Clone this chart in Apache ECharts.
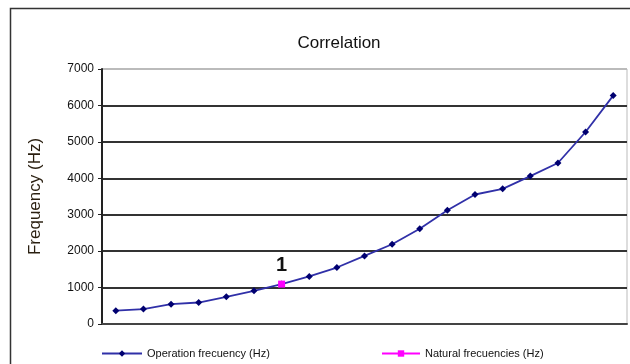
<!DOCTYPE html>
<html>
<head>
<meta charset="utf-8">
<script src="https://cdn.jsdelivr.net/npm/echarts@6/dist/echarts.min.js"></script>
<style>
  html, body { margin: 0; padding: 0; background: #fff; }
  #chart { width: 630px; height: 364px; }
</style>
</head>
<body>
<div id="chart"></div>
<script>
// puntos del eje x (sin etiquetas en la grafica)
var categories = ['1', '2', '3', '4', '5', '6', '7', '8', '9', '10',
    '11', '12', '13', '14', '15', '16', '17', '18', '19'];

// frecuencia de operacion (Hz)
var operationFreq = [365, 410, 545, 590, 745, 910, 1095, 1305, 1550, 1870,
    2190, 2615, 3120, 3555, 3710, 4060, 4420, 5270, 6270];

// frecuencia natural (Hz), solo un punto
var naturalFreq = [null, null, null, null, null, null, 1095, null, null, null,
    null, null, null, null, null, null, null, null, null];

var yTicks = [0, 1000, 2000, 3000, 4000, 5000, 6000, 7000];

var FONT = 'Liberation Sans, Arial, sans-serif';

var myChart = echarts.init(document.getElementById('chart'));

var option = {
    animation: false,
    backgroundColor: '#fff',
    graphic: [{
        type: 'rect',
        shape: { x: 10.5, y: 8.5, width: 700, height: 500 },
        style: { fill: 'none', stroke: '#333', lineWidth: 1.5 },
        z: -1
    }],
    title: {
        text: 'Correlation',
        left: 334,
        textAlign: 'center',
        top: 30,
        textStyle: { fontFamily: FONT, fontSize: 17, fontWeight: 'normal', color: '#111' }
    },
    legend: [{
        data: ['Operation frecuency (Hz)'],
        left: 96,
        top: 343,
        itemWidth: 40,
        itemHeight: 8,
        textStyle: { fontFamily: FONT, fontSize: 11, color: '#111' }
    }, {
        data: ['Natural frecuencies (Hz)'],
        left: 376,
        top: 343,
        itemWidth: 38,
        itemHeight: 8,
        textStyle: { fontFamily: FONT, fontSize: 11, color: '#111' }
    }],
    grid: {
        left: 102,
        right: 3,
        top: 69,
        bottom: 40,
        show: true,
        borderColor: '#bbb',
        borderWidth: 1
    },
    xAxis: {
        type: 'category',
        data: categories,
        boundaryGap: true,
        axisLine: { lineStyle: { color: '#444', width: 2 } },
        axisTick: { show: false },
        axisLabel: { show: false }
    },
    yAxis: {
        type: 'value',
        min: yTicks[0],
        max: yTicks[yTicks.length - 1],
        interval: 1000,
        name: 'Frequency (Hz)',
        nameLocation: 'middle',
        nameGap: 58,
        nameTextStyle: { fontFamily: FONT, fontSize: 17, color: '#2a1f10' },
        axisLine: { show: true, lineStyle: { color: '#222', width: 2 } },
        axisTick: { show: true, inside: false, length: 4, lineStyle: { color: '#222', width: 1 } },
        axisLabel: {
            fontFamily: FONT,
            fontSize: 12,
            color: '#111',
            margin: 8,
            formatter: function (v) { return String(v); }
        },
        splitLine: {
            show: true,
            lineStyle: {
                color: ['#333', '#333', '#333', '#333', '#333', '#333', '#333', '#bbb'],
                width: 2
            }
        }
    },
    series: [
        {
            name: 'Operation frecuency (Hz)',
            type: 'line',
            data: operationFreq,
            symbol: 'diamond',
            symbolSize: 7,
            itemStyle: { color: '#000070' },
            lineStyle: { color: '#3030a8', width: 1.8 },
            z: 2
        },
        {
            name: 'Natural frecuencies (Hz)',
            type: 'line',
            data: naturalFreq,
            symbol: 'rect',
            symbolSize: 7,
            itemStyle: { color: '#ff00ff' },
            lineStyle: { color: '#ff00ff', width: 1.5 },
            label: {
                show: true,
                position: 'top',
                distance: 5,
                formatter: '1',
                fontFamily: FONT,
                fontSize: 20,
                fontWeight: 'bold',
                color: '#111'
            },
            z: 3
        }
    ]
};

myChart.setOption(option);
</script>
</body>
</html>
